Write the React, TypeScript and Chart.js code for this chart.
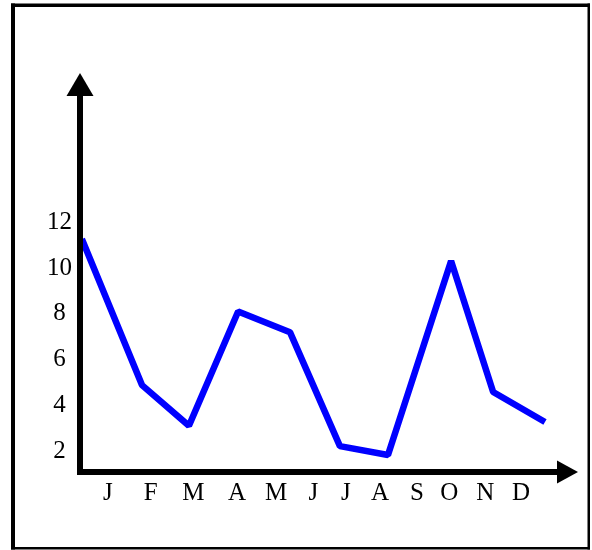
import React, { useEffect, useRef } from "react";
import { Chart, registerables } from "chart.js";

Chart.register(...registerables);

// Month labels and their positions along the x axis (month units)
const monthLabels = ["J", "F", "M", "A", "M", "J", "J", "A", "S", "O", "N", "D"];
const monthPositions = [0.74, 1.88, 3.02, 4.18, 5.22, 6.21, 7.08, 7.99, 8.97, 9.83, 10.79, 11.74];

// Series (x in month units, y values)
const seriesX = [0.05, 1.65, 2.9, 4.21, 5.59, 6.92, 8.2, 9.88, 11.0, 12.38];
const seriesY = [11.26, 4.89, 3.12, 8.1, 7.2, 2.23, 1.84, 10.3, 4.59, 3.28];

// Y tick labels
const yTicks = [2, 4, 6, 8, 10, 12];

const FONT = "'Liberation Serif', 'Times New Roman', serif";

export default function App() {
  const ref = useRef<HTMLCanvasElement | null>(null);

  useEffect(() => {
    document.body.style.margin = "0";
    const canvas = ref.current;
    if (!canvas) return;

    const framePlugin = {
      id: "framePlugin",
      beforeDraw(chart: any) {
        const ctx = chart.ctx;
        ctx.save();
        ctx.fillStyle = "#ffffff";
        ctx.fillRect(0, 0, chart.width, chart.height);
        ctx.fillStyle = "#000000";
        ctx.fillRect(11, 3.5, 4, 546);
        ctx.fillRect(11, 3.5, 579, 3.5);
        ctx.fillRect(587.5, 3.5, 2.5, 546);
        ctx.fillRect(11, 547, 579, 2.5);
        ctx.restore();
      },
      afterDatasetsDraw(chart: any) {
        const ctx = chart.ctx;
        const { left, right, top, bottom } = chart.chartArea;
        ctx.save();
        ctx.fillStyle = "#000000";
        const w = 6;
        // y axis
        ctx.fillRect(left - w / 2, top, w, bottom - top + w / 2);
        // x axis
        ctx.fillRect(left - w / 2, bottom - w / 2, right - left + w / 2, w);
        // y arrow
        ctx.beginPath();
        ctx.moveTo(left - 13.5, top);
        ctx.lineTo(left + 13.5, top);
        ctx.lineTo(left, top - 23);
        ctx.closePath();
        ctx.fill();
        // x arrow
        ctx.beginPath();
        ctx.moveTo(right, bottom - 11.5);
        ctx.lineTo(right, bottom + 11.5);
        ctx.lineTo(right + 21, bottom);
        ctx.closePath();
        ctx.fill();
        ctx.restore();
      },
    };

    const chart = new Chart(canvas, {
      type: "line",
      data: {
        datasets: [
          {
            data: seriesX.map((x, i) => ({ x, y: seriesY[i] })),
            borderColor: "#0000ff",
            borderWidth: 6.5,
            borderJoinStyle: "bevel",
            borderCapStyle: "butt",
            pointRadius: 0,
            fill: false,
            tension: 0,
          },
        ],
      },
      options: {
        responsive: false,
        maintainAspectRatio: false,
        animation: false,
        layout: { padding: { left: 0, right: 35, top: 96, bottom: 0 } },
        plugins: { legend: { display: false }, tooltip: { enabled: false } },
        scales: {
          x: {
            type: "linear",
            min: 0,
            max: 12.7,
            grid: { display: false, drawTicks: false },
            border: { display: false },
            afterBuildTicks: (scale: any) => {
              scale.ticks = monthPositions.map((v) => ({ value: v }));
            },
            afterFit: (scale: any) => {
              scale.height = 78;
            },
            ticks: {
              autoSkip: false,
              maxRotation: 0,
              padding: 6,
              color: "#000000",
              font: { family: FONT, size: 25 },
              callback: (_v: any, i: number) => monthLabels[i],
            },
          },
          y: {
            type: "linear",
            min: 1.1,
            max: 17.5,
            grid: { display: false, drawTicks: false },
            border: { display: false },
            afterBuildTicks: (scale: any) => {
              scale.ticks = yTicks.map((v) => ({ value: v }));
            },
            afterFit: (scale: any) => {
              scale.width = 80;
            },
            ticks: {
              crossAlign: "center",
              padding: 8,
              color: "#000000",
              font: { family: FONT, size: 25 },
              callback: (v: any) => String(v),
            },
          },
        },
      },
      plugins: [framePlugin],
    });

    return () => chart.destroy();
  }, []);

  return (
    <div style={{ position: "absolute", left: 0, top: 0, width: 592, height: 550 }}>
      <canvas ref={ref} width={592} height={550} style={{ width: 592, height: 550, display: "block" }} />
    </div>
  );
}
